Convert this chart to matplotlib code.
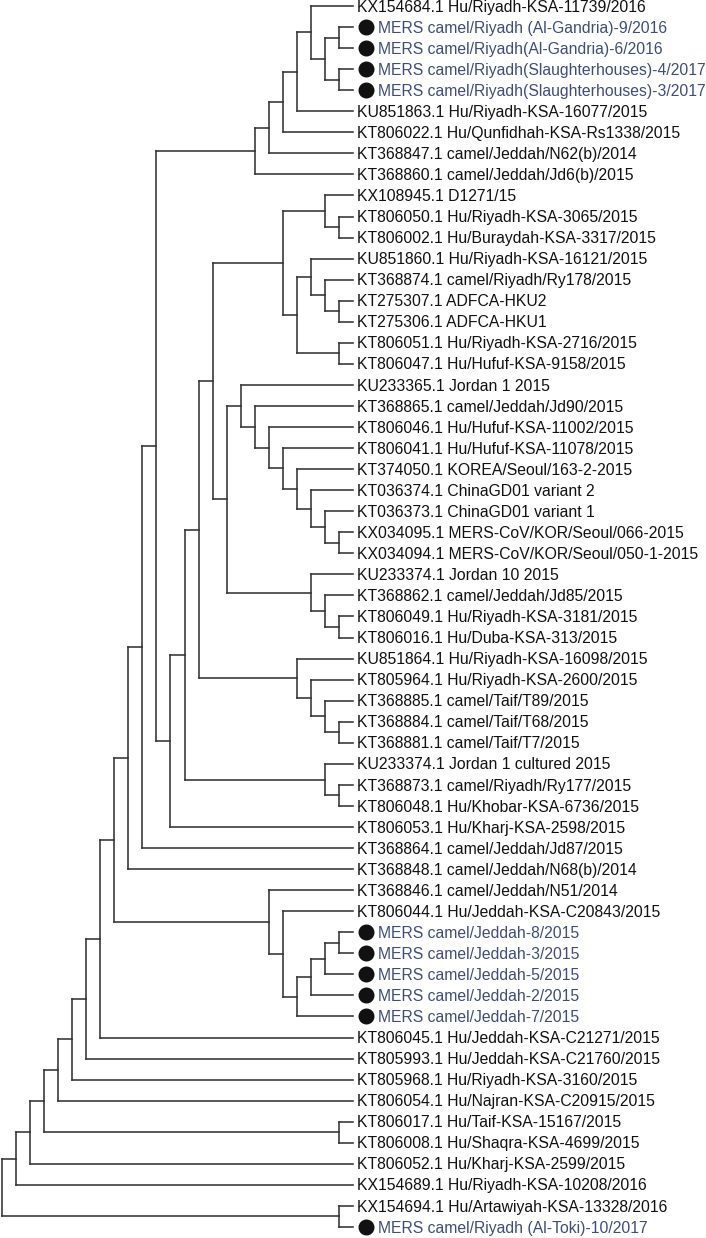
import matplotlib
matplotlib.use("Agg")
import matplotlib.pyplot as plt
from matplotlib.collections import LineCollection
from matplotlib.transforms import ScaledTranslation

# -------------------------------------------------------------
# Tree data: leaf labels (top to bottom), highlighted leaves, topology
# -------------------------------------------------------------
labels = [
    "KX154684.1 Hu/Riyadh-KSA-11739/2016",
    "MERS camel/Riyadh (Al-Gandria)-9/2016",
    "MERS camel/Riyadh(Al-Gandria)-6/2016",
    "MERS camel/Riyadh(Slaughterhouses)-4/2017",
    "MERS camel/Riyadh(Slaughterhouses)-3/2017",
    "KU851863.1 Hu/Riyadh-KSA-16077/2015",
    "KT806022.1 Hu/Qunfidhah-KSA-Rs1338/2015",
    "KT368847.1 camel/Jeddah/N62(b)/2014",
    "KT368860.1 camel/Jeddah/Jd6(b)/2015",
    "KX108945.1 D1271/15",
    "KT806050.1 Hu/Riyadh-KSA-3065/2015",
    "KT806002.1 Hu/Buraydah-KSA-3317/2015",
    "KU851860.1 Hu/Riyadh-KSA-16121/2015",
    "KT368874.1 camel/Riyadh/Ry178/2015",
    "KT275307.1 ADFCA-HKU2",
    "KT275306.1 ADFCA-HKU1",
    "KT806051.1 Hu/Riyadh-KSA-2716/2015",
    "KT806047.1 Hu/Hufuf-KSA-9158/2015",
    "KU233365.1 Jordan 1 2015",
    "KT368865.1 camel/Jeddah/Jd90/2015",
    "KT806046.1 Hu/Hufuf-KSA-11002/2015",
    "KT806041.1 Hu/Hufuf-KSA-11078/2015",
    "KT374050.1 KOREA/Seoul/163-2-2015",
    "KT036374.1 ChinaGD01 variant 2",
    "KT036373.1 ChinaGD01 variant 1",
    "KX034095.1 MERS-CoV/KOR/Seoul/066-2015",
    "KX034094.1 MERS-CoV/KOR/Seoul/050-1-2015",
    "KU233374.1 Jordan 10 2015",
    "KT368862.1 camel/Jeddah/Jd85/2015",
    "KT806049.1 Hu/Riyadh-KSA-3181/2015",
    "KT806016.1 Hu/Duba-KSA-313/2015",
    "KU851864.1 Hu/Riyadh-KSA-16098/2015",
    "KT805964.1 Hu/Riyadh-KSA-2600/2015",
    "KT368885.1 camel/Taif/T89/2015",
    "KT368884.1 camel/Taif/T68/2015",
    "KT368881.1 camel/Taif/T7/2015",
    "KU233374.1 Jordan 1 cultured 2015",
    "KT368873.1 camel/Riyadh/Ry177/2015",
    "KT806048.1 Hu/Khobar-KSA-6736/2015",
    "KT806053.1 Hu/Kharj-KSA-2598/2015",
    "KT368864.1 camel/Jeddah/Jd87/2015",
    "KT368848.1 camel/Jeddah/N68(b)/2014",
    "KT368846.1 camel/Jeddah/N51/2014",
    "KT806044.1 Hu/Jeddah-KSA-C20843/2015",
    "MERS camel/Jeddah-8/2015",
    "MERS camel/Jeddah-3/2015",
    "MERS camel/Jeddah-5/2015",
    "MERS camel/Jeddah-2/2015",
    "MERS camel/Jeddah-7/2015",
    "KT806045.1 Hu/Jeddah-KSA-C21271/2015",
    "KT805993.1 Hu/Jeddah-KSA-C21760/2015",
    "KT805968.1 Hu/Riyadh-KSA-3160/2015",
    "KT806054.1 Hu/Najran-KSA-C20915/2015",
    "KT806017.1 Hu/Taif-KSA-15167/2015",
    "KT806008.1 Hu/Shaqra-KSA-4699/2015",
    "KT806052.1 Hu/Kharj-KSA-2599/2015",
    "KX154689.1 Hu/Riyadh-KSA-10208/2016",
    "KX154694.1 Hu/Artawiyah-KSA-13328/2016",
    "MERS camel/Riyadh (Al-Toki)-10/2017",
]

# leaves (1-based) marked with a dot
marked = [2, 3, 4, 5, 45, 46, 47, 48, 49, 59]

# topology as newick with leaf numbers (cladogram, no branch lengths)
newick = (
    "(((((((((((((((((1,((2,3),(4,5))),6),7),8),9),"
    "((((((10,(11,12)),((13,(14,(15,16))),(17,18))),"
    "((19,(20,(21,(22,(23,(24,(25,(26,27)))))))),(28,(29,(30,31))))),"
    "(32,(33,(34,(35,36))))),(37,(38,39))),40)),41),42),"
    "(43,(44,((((45,46),47),48),49)))),50),51),52),53),(54,55)),56),57),(58,59))"
)


def parse(s):
    pos = 0

    def node():
        nonlocal pos
        if s[pos] == "(":
            pos += 1
            kids = [node()]
            while s[pos] == ",":
                pos += 1
                kids.append(node())
            pos += 1  # ')'
            return kids
        start = pos
        while s[pos].isdigit():
            pos += 1
        return int(s[start:pos])

    return node()


tree = parse(newick)

segs = []


def layout(n):
    """return (height, y) of node and collect line segments"""
    if isinstance(n, int):
        return 0, n - 1
    info = [layout(c) for c in n]
    h = max(i[0] for i in info) + 1
    ys = [i[1] for i in info]
    y = (ys[0] + ys[-1]) / 2
    segs.append([(-h, ys[0]), (-h, ys[-1])])
    for hc, yc in info:
        segs.append([(-h, yc), (-hc, yc)])
    return h, y


layout(tree)

# -------------------------------------------------------------
# Plot
# -------------------------------------------------------------
W, H = 706, 1238
fig = plt.figure(figsize=(W / 100, H / 100), dpi=100)
ax = fig.add_axes([0, 0, 1, 1])
ax.axis("off")

step = 351 / 25      # px per level
tip_px = 353
ax.set_xlim(-tip_px / step, (W - tip_px) / step)
rowh = (1227 - 6) / 58
ax.set_ylim((H - 6) / rowh, -6 / rowh)

lc = LineCollection(segs, colors="#333333", linewidths=1.15, capstyle="projecting")
ax.add_collection(lc)

plt.rcParams["font.family"] = ["Liberation Sans", "DejaVu Sans"]
fs = 11.3
dot_shift = ax.transData + ScaledTranslation(12.5 / 100, 0, fig.dpi_scale_trans)
for i, lab in enumerate(labels):
    if (i + 1) in marked:
        ax.plot([0], [i], marker="o", markersize=10.5, color="#111111",
                transform=dot_shift, clip_on=False)
        ax.annotate(lab, (0, i), xytext=(25, -5.6), textcoords="offset pixels",
                    fontsize=fs, color="#3f4c7c", va="baseline", ha="left")
    else:
        ax.annotate(lab, (0, i), xytext=(4, -5.6), textcoords="offset pixels",
                    fontsize=fs, color="#111111", va="baseline", ha="left")

fig.savefig("out.png", dpi=100)
